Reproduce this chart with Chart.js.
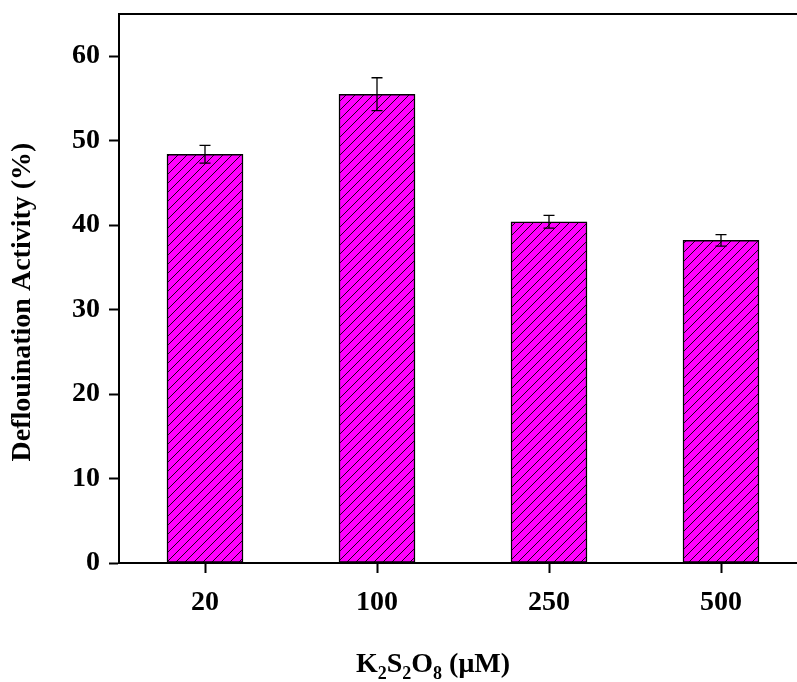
<!DOCTYPE html>
<html>
<head>
<meta charset="utf-8">
<script src="https://cdn.jsdelivr.net/npm/chart.js@4.4.1/dist/chart.umd.min.js"></script>
<style>
  html, body { margin: 0; padding: 0; background: #ffffff; overflow: hidden; }
  #wrap { width: 797px; height: 682px; }
</style>
</head>
<body>
<div id="wrap"><canvas id="c" width="797" height="682"></canvas></div>
<script>
// ---- data ----
const categories = ['20', '100', '250', '500'];
const activity = [48.4, 55.5, 40.4, 38.2];
const activityErr = [1.05, 1.95, 0.75, 0.68];
const yTickValues = [0, 10, 20, 30, 40, 50, 60];
const yAxisTitle = 'Deflouination Activity (%)';
// x title pieces: [text, isSubscript]
const xTitleParts = [['K', 0], ['2', 1], ['S', 0], ['2', 1], ['O', 0], ['8', 1], [' (\u03BCM)', 0]];

const FONT = '"Liberation Serif", "Times New Roman", serif';

// hatch pattern (magenta with "/" black lines)
function makeHatch() {
  const s = 9;
  const p = document.createElement('canvas');
  p.width = s; p.height = s;
  const g = p.getContext('2d');
  g.fillStyle = '#FF00FF';
  g.fillRect(0, 0, s, s);
  g.strokeStyle = '#1a0018';
  g.lineWidth = 1;
  g.beginPath();
  g.moveTo(-1, s + 1); g.lineTo(s + 1, -1);
  g.moveTo(-1, 1); g.lineTo(1, -1);
  g.moveTo(s - 1, s + 1); g.lineTo(s + 1, s - 1);
  g.stroke();
  return g.createPattern(p, 'repeat');
}

const ctx = document.getElementById('c').getContext('2d');
const hatch = makeHatch();

const decorPlugin = {
  id: 'decor',
  afterDatasetsDraw(chart) {
    const c = chart.ctx;
    const ys = chart.scales.y;
    const meta = chart.getDatasetMeta(0);
    c.save();
    c.strokeStyle = '#000';
    c.lineWidth = 1.3;
    activity.forEach((v, i) => {
      const x = meta.data[i].x;
      const yt = ys.getPixelForValue(v + activityErr[i]);
      const yb = ys.getPixelForValue(v - activityErr[i]);
      c.beginPath();
      c.moveTo(x, yt); c.lineTo(x, yb);
      c.moveTo(x - 5.5, yt); c.lineTo(x + 5.5, yt);
      c.moveTo(x - 5.5, yb); c.lineTo(x + 5.5, yb);
      c.stroke();
    });
    c.restore();
  },
  afterDraw(chart) {
    const c = chart.ctx;
    const a = chart.chartArea;
    c.save();
    // top frame line
    c.strokeStyle = '#000';
    c.lineWidth = 2;
    c.beginPath();
    c.moveTo(a.left - 1, a.top);
    c.lineTo(a.right, a.top);
    c.stroke();

    // y axis title
    c.fillStyle = '#000';
    c.font = 'bold 28px ' + FONT;
    c.textAlign = 'center';
    c.textBaseline = 'middle';
    c.translate(23, 302);
    c.rotate(-Math.PI / 2);
    c.fillText(yAxisTitle, 0, 0);
    c.restore();

    // x axis title with subscripts
    c.save();
    c.fillStyle = '#000';
    c.textBaseline = 'alphabetic';
    c.textAlign = 'left';
    const mainFont = 'bold 28px ' + FONT;
    const subFont = 'bold 18px ' + FONT;
    let total = 0;
    xTitleParts.forEach(([t, sub]) => { c.font = sub ? subFont : mainFont; total += c.measureText(t).width; });
    let x = 433 - total / 2;
    const base = 672;
    xTitleParts.forEach(([t, sub]) => {
      c.font = sub ? subFont : mainFont;
      c.fillText(t, x, sub ? base + 7 : base);
      x += c.measureText(t).width;
    });
    c.restore();
  }
};

new Chart(ctx, {
  type: 'bar',
  data: {
    datasets: [{
      data: activity.map((v, i) => ({ x: i + 1, y: v })),
      backgroundColor: hatch,
      borderColor: '#000',
      borderWidth: 1.5,
      borderSkipped: false,
      barThickness: 76
    }]
  },
  options: {
    responsive: false,
    animation: false,
    devicePixelRatio: 1,
    layout: { padding: { top: 14, right: 0, left: 0, bottom: 0 } },
    plugins: { legend: { display: false }, tooltip: { enabled: false } },
    scales: {
      x: {
        type: 'linear',
        offset: false,
        min: 0.5,
        max: 0.5 + 678 / 172,
        afterBuildTicks(scale) { scale.ticks = categories.map((_, i) => ({ value: i + 1 })); },
        afterFit(scale) { scale.height = 119; scale.paddingLeft = 0; scale.paddingRight = 0; },
        grid: { offset: false, drawOnChartArea: false, tickLength: 10, tickWidth: 2, tickColor: '#000' },
        border: { display: true, color: '#000', width: 2 },
        ticks: {
          color: '#000',
          font: { family: FONT, size: 28, weight: 'bold' },
          padding: 13,
          maxRotation: 0,
          autoSkip: false,
          callback: (v) => categories[Math.round(v) - 1]
        }
      },
      y: {
        min: 0,
        max: 65,
        afterBuildTicks(scale) { scale.ticks = yTickValues.map(v => ({ value: v })); },
        afterFit(scale) { scale.width = 119; scale.paddingTop = 0; scale.paddingBottom = 0; },
        grid: { drawOnChartArea: false, tickLength: 10, tickWidth: 2, tickColor: '#000' },
        border: { display: true, color: '#000', width: 2 },
        ticks: {
          color: '#000',
          font: { family: FONT, size: 28, weight: 'bold' },
          padding: 9
        }
      }
    }
  },
  plugins: [decorPlugin]
});
</script>
</body>
</html>
